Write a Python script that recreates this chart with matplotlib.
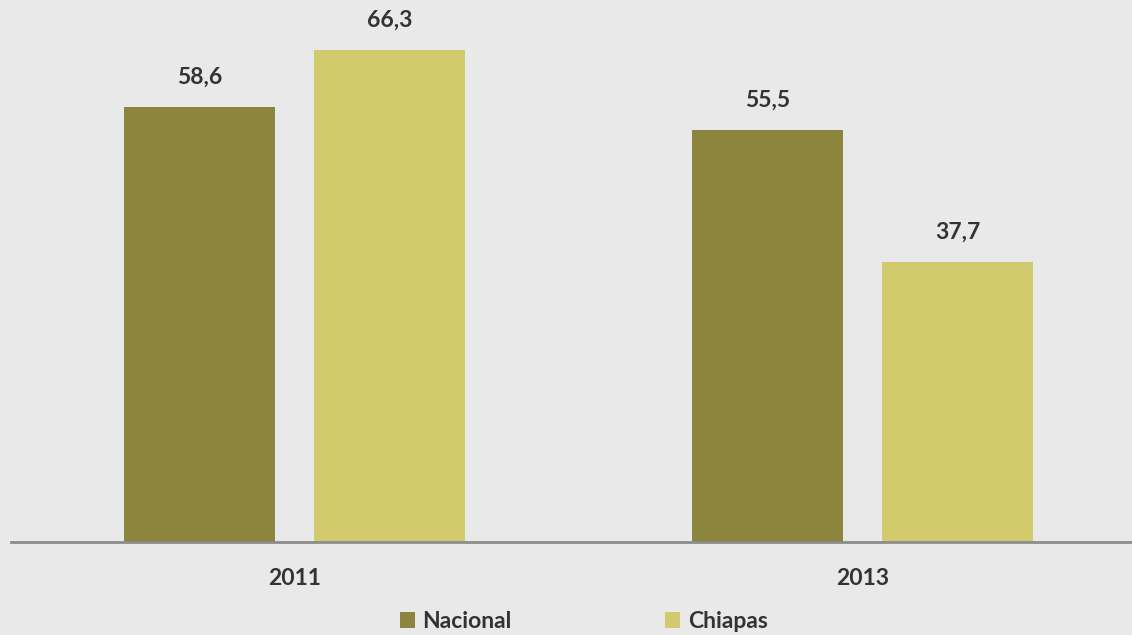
import matplotlib.pyplot as plt
import numpy as np

# Data
years = ['2011', '2013']
series = ['Nacional', 'Chiapas']
nacional = [58.6, 55.5]
chiapas = [66.3, 37.7]

COLORS = {'Nacional': '#8b853d', 'Chiapas': '#d2cb6d'}
BG = '#e9e9e9'
TEXT = '#333333'

plt.rcParams['font.family'] = ['Lato', 'DejaVu Sans']

W, H = 1132, 635
fig = plt.figure(figsize=(W / 100, H / 100), dpi=100, facecolor=BG)

# axes: left edge at x=10.5 px, baseline at y=541.5 px
ax_left = 10.5 / W
ax_bottom = (H - 541.5) / H
ax = fig.add_axes([ax_left, ax_bottom, 1 - ax_left, 1 - ax_bottom])
ax.set_facecolor(BG)

x = np.arange(len(years))
width = 151 / 568
offset = 95 / 568

for vals, name, off in [(nacional, 'Nacional', -offset), (chiapas, 'Chiapas', offset)]:
    bars = ax.bar(x + off, vals, width, color=COLORS[name], label=name, zorder=2)
    for b, v in zip(bars, vals):
        ax.annotate(f'{v:.1f}'.replace('.', ','),
                    (b.get_x() + b.get_width() / 2, v),
                    xytext=(0, 21), textcoords='offset points',
                    ha='center', va='center', fontsize=16.5,
                    fontweight='bold', color=TEXT)

ax.set_xlim(-0.5, (W - 294.5) / 568)
ax.set_ylim(0, 541.5 / 7.42)

for s in ['top', 'right', 'left']:
    ax.spines[s].set_visible(False)
ax.spines['bottom'].set_color('#8c8c8c')
ax.spines['bottom'].set_linewidth(2)
ax.spines['bottom'].set_zorder(3)

ax.set_yticks([])
ax.set_xticks(x)
ax.set_xticklabels(years, fontsize=16.5, fontweight='bold', color=TEXT)
ax.tick_params(axis='x', length=0, pad=19)

leg = fig.legend(loc='lower left', bbox_to_anchor=(379 / W, -0.028), ncol=2,
                 frameon=False, prop={'size': 16.5, 'weight': 'bold'},
                 handlelength=0.65, handleheight=0.65, handletextpad=0.35,
                 columnspacing=6.7, labelcolor=TEXT)

fig.savefig('out.png', dpi=100, facecolor=BG)
